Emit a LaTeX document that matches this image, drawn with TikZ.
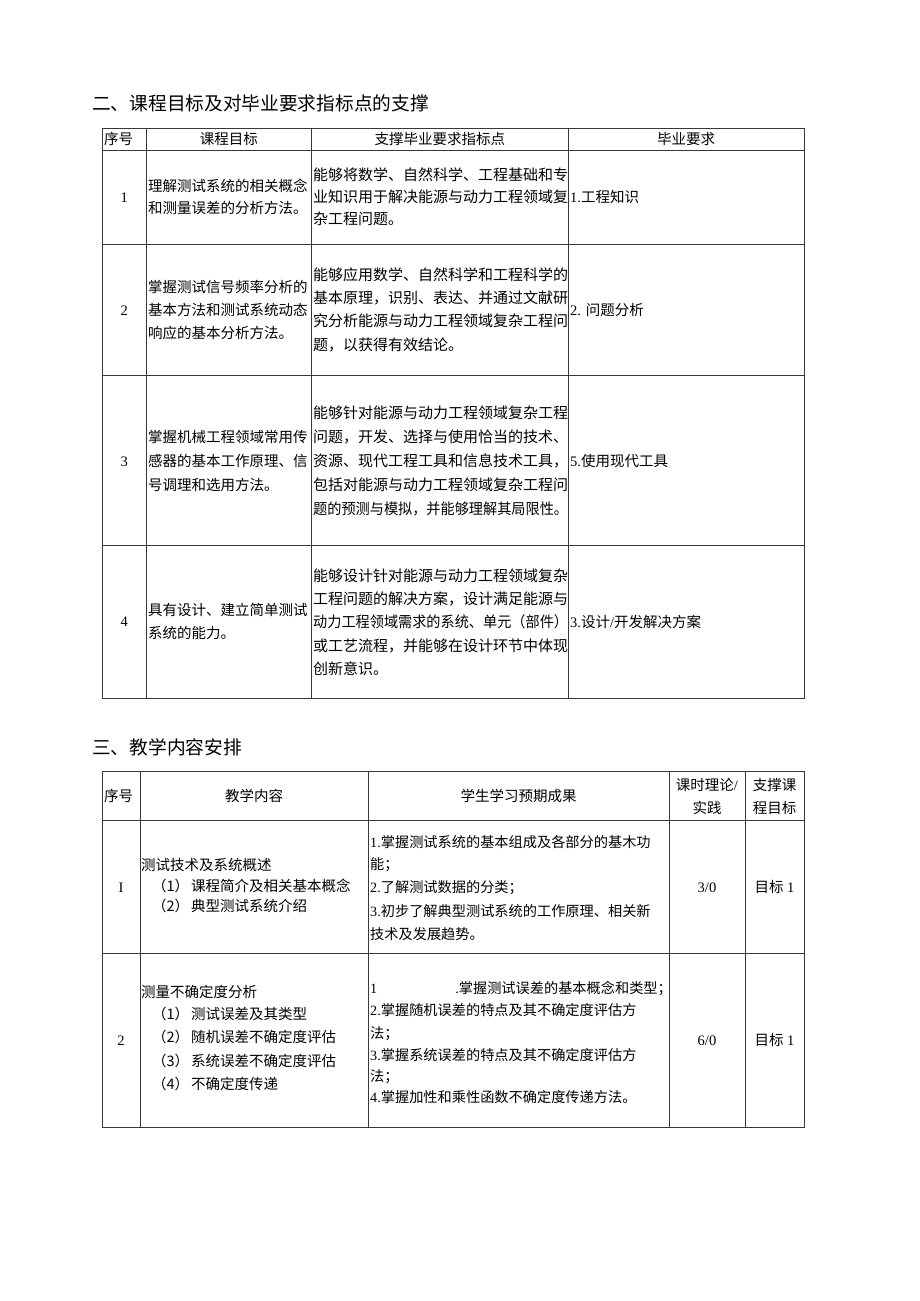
\documentclass[tikz,border=0pt]{standalone}
\usepackage{fontspec}
\usepackage{graphicx}
\setmainfont{Noto Sans CJK SC}
\newfontfamily\lat{Liberation Serif}
\tikzset{
  grid/.style={draw=black!78, line width=0.9pt},
  tx/.style={inner sep=0pt, anchor=west, text height=12.8pt, text depth=1.7pt, font=\fontsize{14.5}{17}\selectfont},
  tc/.style={tx, anchor=center},
  sup/.style={tx, font=\fontsize{15}{17}\selectfont, text height=13.2pt, text depth=1.8pt},
  oc/.style={tx, font=\fontsize{14.2}{17}\selectfont, text height=12.5pt, text depth=1.7pt},
  ttl/.style={inner sep=0pt, anchor=west, font=\fontsize{18.7}{22}\selectfont, text height=16.5pt, text depth=2.2pt},
}
\begin{document}
\begin{tikzpicture}[x=1pt,y=-1pt]
\useasboundingbox[fill=white] (0,0) rectangle (920,1301);

% ---------- Section 2 ----------
\node[ttl] (t1) at (92,103) {二、课程目标及对毕业要求指标点的支撑};

\draw[grid] (102,128) rectangle (804,698);
\foreach \yy in {150,244,375,545} \draw[grid] (102,\yy) -- (804,\yy);
\foreach \xx in {146.5,311,568.5} \draw[grid] (\xx,128) -- (\xx,698);

\node[tx] (h1a) at (104,139) {序号};
\node[tc] (h1b) at (228.75,139) {课程目标};
\node[tc] (h1c) at (439.75,139) {支撑毕业要求指标点};
\node[tc] (h1d) at (686,139) {毕业要求};

% row 1
\node[tc] (a1) at (124.25,197) {\lat 1};
\node[tx] (a1g1) at (148,186) {理解测试系统的相关概念};
\node[tx] (a1g2) at (148,208) {和测量误差的分析方法。};
\node[sup] (a1s1) at (313,175) {能够将数学、自然科学、工程基础和专};
\node[sup] (a1s2) at (313,197) {业知识用于解决能源与动力工程领域复};
\node[sup] (a1s3) at (313,219) {杂工程问题。};
\node[tx] (a1r) at (570,197) {{\lat 1.}工程知识};

% row 2
\node[tc] (a2) at (124.25,310) {\lat 2};
\node[tx] (a2g1) at (148,287) {掌握测试信号频率分析的};
\node[tx] (a2g2) at (148,310) {基本方法和测试系统动态};
\node[tx] (a2g3) at (148,333) {响应的基本分析方法。};
\node[sup] (a2s1) at (313,275) {能够应用数学、自然科学和工程科学的};
\node[sup] (a2s2) at (313,298) {基本原理，识别、表达、并通过文献研};
\node[sup] (a2s3) at (313,321) {究分析能源与动力工程领域复杂工程问};
\node[sup] (a2s4) at (313,345) {题，以获得有效结论。};
\node[tx] (a2r) at (570,310) {{\lat 2. }问题分析};

% row 3
\node[tc] (a3) at (124.25,461) {\lat 3};
\node[tx] (a3g1) at (148,437) {掌握机械工程领域常用传};
\node[tx] (a3g2) at (148,461) {感器的基本工作原理、信};
\node[tx] (a3g3) at (148,485) {号调理和选用方法。};
\node[sup] (a3s1) at (313,413) {能够针对能源与动力工程领域复杂工程};
\node[sup] (a3s2) at (313,437) {问题，开发、选择与使用恰当的技术、};
\node[sup] (a3s3) at (313,461) {资源、现代工程工具和信息技术工具，};
\node[sup] (a3s4) at (313,485) {包括对能源与动力工程领域复杂工程问};
\node[sup] (a3s5) at (313,509) {\scalebox{0.944}[1]{题的预测与模拟，并能够理解其局限性。}};
\node[tx] (a3r) at (570,461) {{\lat 5.}使用现代工具};

% row 4
\node[tc] (a4) at (124.25,621) {\lat 4};
\node[tx] (a4g1) at (148,610) {具有设计、建立简单测试};
\node[tx] (a4g2) at (148,633) {系统的能力。};
\node[sup] (a4s1) at (313,576) {能够设计针对能源与动力工程领域复杂};
\node[sup] (a4s2) at (313,599) {工程问题的解决方案，设计满足能源与};
\node[sup] (a4s3) at (313,622) {\scalebox{0.944}[1]{动力工程领域需求的系统、单元（部件）}};
\node[sup] (a4s4) at (313,646) {或工艺流程，并能够在设计环节中体现};
\node[sup] (a4s5) at (313,669) {创新意识。};
\node[tx] (a4r) at (570,622) {{\lat 3.}设计{\lat /}开发解决方案};

% ---------- Section 3 ----------
\node[ttl] (t2) at (92,747) {三、教学内容安排};

\draw[grid] (102,771.5) rectangle (804,1127);
\foreach \yy in {820.5,953} \draw[grid] (102,\yy) -- (804,\yy);
\foreach \xx in {140,368,669,745} \draw[grid] (\xx,771.5) -- (\xx,1127);

\node[tx] (h2a) at (104,796) {序号};
\node[tc] (h2b) at (254,796) {教学内容};
\node[tc] (h2c) at (518.5,796) {学生学习预期成果};
\node[tc] (h2d1) at (707,785) {课时理论{\lat /}};
\node[tc] (h2d2) at (707,808) {实践};
\node[tc] (h2e1) at (774.5,785) {支撑课};
\node[tc] (h2e2) at (774.5,808) {程目标};

% row I
\node[tc] (b1) at (121,887) {\lat I};
\node[tx] (b1c0) at (141,865) {测试技术及系统概述};
\node[tx] (b1c1) at (152,886) {（1）\hspace{2pt}课程简介及相关基本概念};
\node[tx] (b1c2) at (152,906) {（2）\hspace{2pt}典型测试系统介绍};
\node[oc] (b1o1) at (370,842) {{\lat 1.}掌握测试系统的基本组成及各部分的基木功};
\node[oc] (b1o2) at (370,864) {能；};
\node[oc] (b1o3) at (370,887) {{\lat 2.}了解测试数据的分类；};
\node[oc] (b1o4) at (370,911) {{\lat 3.}初步了解典型测试系统的工作原理、相关新};
\node[oc] (b1o5) at (370,934) {技术及发展趋势。};
\node[tc] (b1h) at (707,887) {\lat 3/0};
\node[tc] (b1t) at (774.5,887) {目标{\lat\ 1}};

% row 2
\node[tc] (b2) at (121,1040) {\lat 2};
\node[tx] (b2c0) at (141,992) {测量不确定度分析};
\node[tx] (b2c1) at (152,1014) {（1）\hspace{2pt}测试误差及其类型};
\node[tx] (b2c2) at (152,1037) {（2）\hspace{2pt}随机误差不确定度评估};
\node[tx] (b2c3) at (152,1061) {（3）\hspace{2pt}系统误差不确定度评估};
\node[tx] (b2c4) at (152,1084) {（4）\hspace{2pt}不确定度传递};
\node[oc] (b2o1) at (370,988) {{\lat 1}\hspace{78pt}{\lat .}掌握测试误差的基本概念和类型；};
\node[oc] (b2o2) at (370,1010) {{\lat 2.}掌握随机误差的特点及其不确定度评估方};
\node[oc] (b2o3) at (370,1033) {法；};
\node[oc] (b2o4) at (370,1055) {{\lat 3.}掌握系统误差的特点及其不确定度评估方};
\node[oc] (b2o5) at (370,1076) {法；};
\node[oc] (b2o6) at (370,1097) {{\lat 4.}掌握加性和乘性函数不确定度传递方法。};
\node[tc] (b2h) at (707,1040) {\lat 6/0};
\node[tc] (b2t) at (774.5,1040) {目标{\lat\ 1}};
\end{tikzpicture}
\end{document}
